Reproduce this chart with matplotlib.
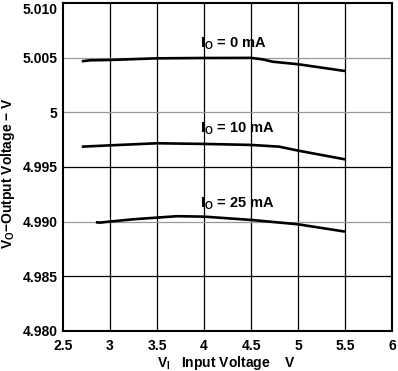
import matplotlib
matplotlib.use("Agg")
import matplotlib.pyplot as plt

plt.rcParams['font.family'] = ['Liberation Sans', 'DejaVu Sans']
plt.rcParams['mathtext.fontset'] = 'custom'
plt.rcParams['mathtext.rm'] = 'Liberation Sans:bold'
plt.rcParams['mathtext.bf'] = 'Liberation Sans:bold'
plt.rcParams['mathtext.it'] = 'Liberation Sans:bold'

# Data
vin_0 = [2.70, 2.79, 3.00, 3.50, 4.00, 4.50, 4.62, 4.73, 5.00, 5.50]
vo_0 = [5.00467, 5.00476, 5.00479, 5.00494, 5.00497, 5.00498, 5.00485, 5.00463, 5.00440, 5.00378]

vin_10 = [2.70, 3.00, 3.50, 4.00, 4.50, 4.80, 5.00, 5.50]
vo_10 = [4.99686, 4.99698, 4.99717, 4.99711, 4.99702, 4.99686, 4.99650, 4.99570]

vin_25 = [2.85, 2.89, 3.00, 3.18, 3.25, 3.50, 3.71, 4.00, 4.50, 5.00, 5.50]
vo_25 = [4.98995, 4.98991, 4.99001, 4.99016, 4.99022, 4.99037, 4.99050, 4.99046, 4.99016, 4.98976, 4.98909]

curve_labels = [r'$\mathbf{I_O}$ = 0 mA', r'$\mathbf{I_O}$ = 10 mA', r'$\mathbf{I_O}$ = 25 mA']
label_pos = [(3.955, 5.00628), (3.955, 4.99848), (3.955, 4.99163)]

x_ticks = [2.5, 3, 3.5, 4, 4.5, 5, 5.5, 6]
x_tick_labels = ['2.5', '3', '3.5', '4', '4.5', '5', '5.5', '6']
y_ticks = [4.980, 4.985, 4.990, 4.995, 5.000, 5.005, 5.010]
y_tick_labels = ['4.980', '4.985', '4.990', '4.995', '5', '5.005', '5.010']
gray_y = [4.990, 5.000, 5.005]

W, H = 398, 371
fig = plt.figure(figsize=(W / 100, H / 100), dpi=100)
L, R, T, B = 63, 392, 3, 331
ax = fig.add_axes([L / W, 1 - B / H, (R - L) / W, (B - T) / H])
ax.set_xlim(2.5, 6)
ax.set_ylim(4.980, 5.010)

for xv in x_ticks[1:-1]:
    ax.axvline(xv, color='black', lw=0.9, zorder=1)
for yv in y_ticks[1:-1]:
    ax.axhline(yv, color='#999999' if yv in gray_y else 'black', lw=0.9, zorder=1)

for xs, ys in [(vin_0, vo_0), (vin_10, vo_10), (vin_25, vo_25)]:
    ax.plot(xs, ys, color='black', lw=1.9, zorder=3, solid_capstyle='butt')

for lab, (lx, ly) in zip(curve_labels, label_pos):
    ax.text(lx, ly, lab, fontsize=10.5, fontweight='bold', ha='left', va='center',
            zorder=4)

ax.set_xticks(x_ticks)
ax.set_xticklabels(x_tick_labels)
ax.set_yticks(y_ticks)
ax.set_yticklabels(y_tick_labels)
ax.tick_params(axis='both', length=0, labelsize=10)
ax.tick_params(axis='x', pad=6)
ax.tick_params(axis='y', pad=4)
for lab in ax.get_xticklabels() + ax.get_yticklabels():
    lab.set_fontweight('bold')
ax.get_yticklabels()[-1].set_verticalalignment('top')

for sp in ax.spines.values():
    sp.set_linewidth(1.5)
    sp.set_color('black')

ax.set_xlabel(r'$\mathbf{V_I}$   Input Voltage    V', fontsize=10, fontweight='bold')
ax.xaxis.set_label_coords(0.497, (B - 354) / (B - T))
ax.set_ylabel(r'$\mathbf{V_O}$$-$Output Voltage $-$ V', fontsize=10, fontweight='bold',
              va='center')
ax.yaxis.set_label_coords((8 - L) / (R - L), (B - 173) / (B - T))

fig.savefig('out.png', dpi=100)
